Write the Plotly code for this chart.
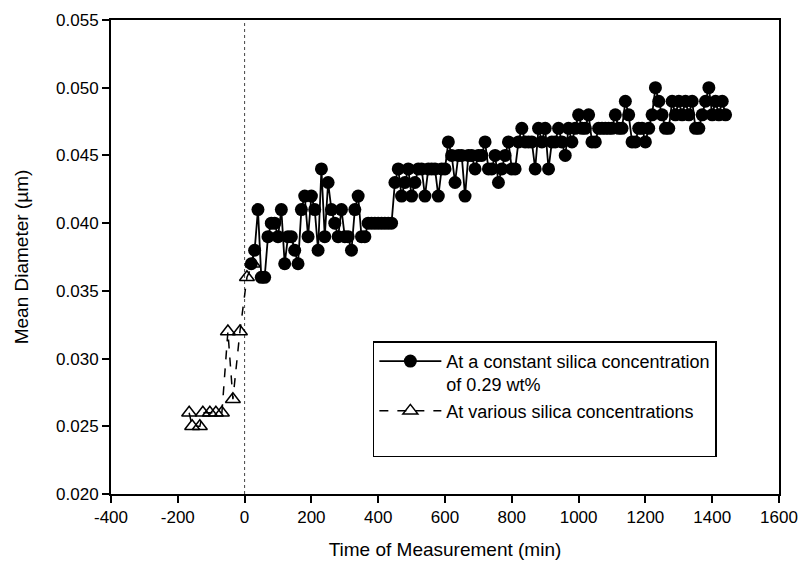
import plotly.graph_objects as go

# Series 1: constant silica concentration (0.29 wt%)
t_const = list(range(20, 1450, 10))
d_const = [
    0.037, 0.038, 0.041, 0.036, 0.036, 0.039, 0.040, 0.040, 0.039, 0.041,
    0.037, 0.039, 0.039, 0.038, 0.037, 0.041, 0.042, 0.039, 0.042, 0.041,
    0.038, 0.044, 0.039, 0.043, 0.041, 0.040, 0.039, 0.041, 0.039, 0.039,
    0.038, 0.041, 0.042, 0.039, 0.039, 0.040, 0.040, 0.040, 0.040, 0.040,
    0.040, 0.040, 0.040, 0.043, 0.044, 0.042, 0.043, 0.044, 0.042, 0.043,
    0.044, 0.044, 0.042, 0.044, 0.044, 0.044, 0.042, 0.044, 0.044, 0.046,
    0.045, 0.043, 0.045, 0.045, 0.042, 0.045, 0.045, 0.044, 0.045, 0.045,
    0.046, 0.044, 0.044, 0.045, 0.043, 0.044, 0.045, 0.046, 0.044, 0.044,
    0.046, 0.047, 0.046, 0.046, 0.046, 0.044, 0.047, 0.046, 0.047, 0.044,
    0.046, 0.046, 0.047, 0.046, 0.045, 0.047, 0.046, 0.047, 0.048, 0.047,
    0.047, 0.048, 0.046, 0.046, 0.047, 0.047, 0.047, 0.047, 0.047, 0.048,
    0.047, 0.047, 0.049, 0.048, 0.046, 0.046, 0.047, 0.047, 0.046, 0.047,
    0.048, 0.050, 0.049, 0.048, 0.047, 0.047, 0.049, 0.048, 0.049, 0.048,
    0.049, 0.048, 0.049, 0.047, 0.047, 0.048, 0.049, 0.050, 0.048, 0.049,
    0.048, 0.049, 0.048,
]

# Series 2: various silica concentrations
t_var = [-166, -157, -134, -125, -104, -86, -68, -50, -35, -14, 7, 25]
d_var = [0.026, 0.025, 0.025, 0.026, 0.026, 0.026, 0.026, 0.032, 0.027, 0.032, 0.036, 0.037]

x_ticks = [-400, -200, 0, 200, 400, 600, 800, 1000, 1200, 1400, 1600]
y_ticks = [0.020, 0.025, 0.030, 0.035, 0.040, 0.045, 0.050, 0.055]

FONT = "Liberation Sans, Arial, sans-serif"

fig = go.Figure()
fig.add_trace(go.Scatter(
    x=t_const, y=d_const, mode="lines+markers",
    name="At a constant silica concentration<br>of 0.29 wt%",
    line=dict(color="black", width=1.8),
    marker=dict(symbol="circle", size=13, color="black"),
))
fig.add_trace(go.Scatter(
    x=t_var, y=d_var, mode="lines+markers",
    name="At various silica concentrations",
    line=dict(color="black", width=1.5, dash="dash"),
    marker=dict(symbol="triangle-up-open", size=13, color="black",
                line=dict(width=1.5, color="black")),
))
# empty legend row to reproduce the blank space at the bottom of the legend box
fig.add_trace(go.Scatter(
    x=[None], y=[None], mode="lines", name=" ",
    line=dict(color="rgba(0,0,0,0)", width=0), hoverinfo="skip",
))

fig.add_shape(type="line", xref="x", yref="paper", x0=0, x1=0, y0=0, y1=1,
              line=dict(color="#444444", width=1, dash="dot"), layer="below")

fig.update_layout(
    width=803, height=574,
    margin=dict(l=111, r=24, t=20, b=80, autoexpand=False),
    paper_bgcolor="white", plot_bgcolor="white",
    font=dict(family=FONT, size=17, color="black"),
    showlegend=True,
    legend=dict(
        x=0.392, y=0.322, xanchor="left", yanchor="top",
        bordercolor="black", borderwidth=1.5, bgcolor="white",
        font=dict(family=FONT, size=18, color="black"),
        valign="top", itemwidth=62, tracegroupgap=0,
    ),
)
fig.update_xaxes(
    range=[-400, 1600], tickvals=x_ticks, ticktext=[str(v) for v in x_ticks],
    ticks="outside", ticklen=7, tickwidth=1.5, tickcolor="black",
    ticklabeloverflow="allow", automargin=False,
    showline=True, linecolor="black", linewidth=2, mirror=True,
    showgrid=False, zeroline=False,
    title=dict(text="Time of Measurement (min)", font=dict(size=19), standoff=16),
)
fig.update_yaxes(
    range=[0.020, 0.055], tickvals=y_ticks, ticktext=[f"{v:.3f}" for v in y_ticks],
    ticks="outside", ticklen=7, tickwidth=1.5, tickcolor="black",
    automargin=False,
    showline=True, linecolor="black", linewidth=2, mirror=True,
    showgrid=False, zeroline=False,
    title=dict(text="Mean Diameter (µm)", font=dict(size=19), standoff=22),
)

fig.write_html("out.html")
